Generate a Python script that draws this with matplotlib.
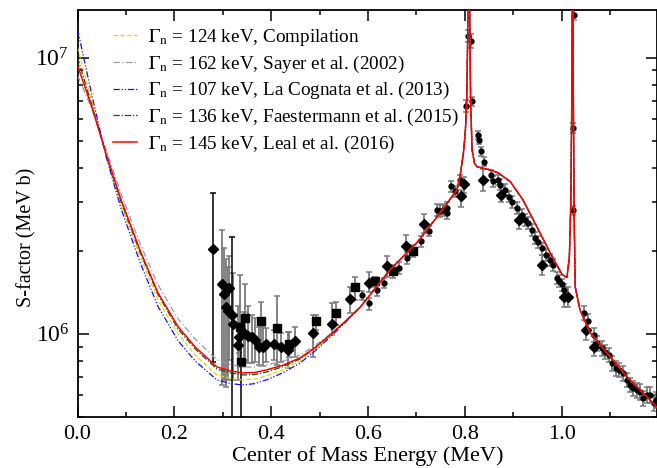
import numpy as np
import matplotlib
matplotlib.use("Agg")
import matplotlib.pyplot as plt
from matplotlib.ticker import LogLocator, MultipleLocator, NullFormatter

plt.rcParams["font.family"] = ["Liberation Serif", "DejaVu Serif"]
plt.rcParams["mathtext.fontset"] = "stix"

# --- model curves -------------------------------------------------------
# below ~0.55 MeV the five evaluations differ
low_E = [0.0, 0.03, 0.059, 0.09, 0.129, 0.166, 0.208, 0.243, 0.288, 0.315,
         0.340, 0.365, 0.391, 0.425, 0.460, 0.490, 0.522, 0.553]
S_compilation = [1.092e7, 6.94e6, 4.39e6, 2.93e6, 1.91e6, 1.33e6, 1.00e6,
                 8.39e5, 7.10e5, 6.90e5, 6.81e5, 6.86e5, 7.05e5, 7.42e5,
                 7.99e5, 8.73e5, 9.83e5, 1.106e6]
S_sayer = [8.65e6, 6.49e6, 4.65e6, 3.22e6, 2.13e6, 1.51e6, 1.13e6, 9.59e5,
           8.05e5, 7.76e5, 7.59e5, 7.58e5, 7.73e5, 7.97e5, 8.39e5, 9.06e5,
           9.99e5, 1.11e6]
S_lacognata = [1.269e7, 7.29e6, 4.39e6, 2.84e6, 1.82e6, 1.26e6, 9.43e5,
               7.98e5, 6.81e5, 6.62e5, 6.53e5, 6.60e5, 6.82e5, 7.24e5,
               7.85e5, 8.65e5, 9.74e5, 1.10e6]
S_faestermann = [1.005e7, 6.71e6, 4.46e6, 3.01e6, 1.98e6, 1.39e6, 1.04e6,
                 8.82e5, 7.46e5, 7.23e5, 7.10e5, 7.12e5, 7.28e5, 7.62e5,
                 8.12e5, 8.87e5, 9.91e5, 1.11e6]
S_leal = [9.4e6, 6.6e6, 4.5e6, 3.06e6, 2.01e6, 1.41e6, 1.06e6, 8.97e5,
          7.59e5, 7.35e5, 7.22e5, 7.24e5, 7.41e5, 7.71e5, 8.19e5, 8.91e5,
          9.91e5, 1.11e6]

# above ~0.55 MeV they lie on top of each other
high_E = [0.584, 0.646, 0.701, 0.743, 0.784, 0.790, 0.797, 0.801, 0.804,
          0.806, 0.808, 0.810, 0.812, 0.815, 0.820, 0.825, 0.852, 0.869,
          0.894, 0.920, 0.949, 0.976, 1.001, 1.011, 1.016, 1.019, 1.021,
          1.0225, 1.024, 1.026, 1.028, 1.038, 1.059, 1.094, 1.135, 1.177,
          1.197]
high_S = [1.25e6, 1.71e6, 2.14e6, 2.66e6, 3.33e6, 3.71e6, 4.5e6, 5.35e6,
          7.0e6, 1.2e7, 3.0e7, 1.5e7, 7.0e6, 4.64e6, 4.15e6, 4.03e6, 3.93e6,
          3.83e6, 3.56e6, 3.06e6, 2.44e6, 1.97e6, 1.64e6, 1.60e6, 1.9e6,
          3.0e6, 7.0e6, 3.0e7, 8.0e6, 2.6e6, 1.48e6, 1.22e6, 1.01e6, 8.53e5,
          6.98e5, 5.91e5, 5.40e5]

# --- measured data ------------------------------------------------------
dia_E = [0.2979, 0.3033, 0.3062, 0.3103, 0.3136, 0.3219, 0.331, 0.334,
         0.3446, 0.3517, 0.360, 0.3667, 0.375, 0.3826, 0.3895, 0.4054,
         0.4205, 0.4355, 0.4494, 0.487, 0.525, 0.563, 0.6023, 0.6388, 0.678,
         0.716, 0.7924, 0.799, 0.837, 0.874, 0.9128, 0.959, 1.005, 1.013,
         1.050, 1.067]
dia_S = [1.52e6, 1.40e6, 1.25e6, 1.21e6, 1.47e6, 1.09e6, 9.12e5, 9.77e5,
         1.01e6, 9.85e5, 9.78e5, 9.51e5, 8.95e5, 8.99e5, 9.2e5, 9.18e5,
         8.95e5, 8.71e5, 9.42e5, 1.01e6, 1.09e6, 1.34e6, 1.53e6, 1.76e6,
         2.09e6, 2.51e6, 3.16e6, 3.48e6, 3.61e6, 3.19e6, 2.58e6, 1.78e6,
         1.36e6, 1.36e6, 1.03e6, 9.0e5]
dia_lo = [6.53e5, 6.81e5, 6.44e5, 6.81e5, 8.06e5, 6.81e5, 6.81e5, 8.5e5,
          8.0e5, 7.85e5, 7.85e5, 7.94e5, 7.73e5, 7.62e5, 7.9e5, 8.06e5,
          7.94e5, 7.53e5, 8.28e5, 8.28e5, 9.91e5, 1.19e6, 1.42e6, 1.61e6,
          1.91e6, 2.32e6, 2.89e6, 3.25e6, 3.3e6, 3.0e6, 2.4e6, 1.63e6,
          1.25e6, 1.25e6, 9.5e5, 8.3e5]
dia_hi = [2.38e6, 2.05e6, 1.86e6, 1.75e6, 1.91e6, 1.66e6, 1.26e6, 1.1e6,
          1.2e6, 1.26e6, 1.17e6, 1.14e6, 1.06e6, 1.06e6, 1.05e6, 1.03e6,
          1.01e6, 1.02e6, 1.06e6, 1.17e6, 1.29e6, 1.48e6, 1.67e6, 1.92e6,
          2.29e6, 2.72e6, 3.33e6, 3.7e6, 3.95e6, 3.4e6, 2.8e6, 1.93e6,
          1.48e6, 1.48e6, 1.11e6, 9.8e5]

sq_E = [0.3357, 0.3461, 0.379, 0.4116, 0.437, 0.4928, 0.5334, 0.5733,
        0.6147, 0.6512, 0.692]
sq_S = [1.06e6, 1.14e6, 1.11e6, 1.05e6, 9.2e5, 1.11e6, 1.19e6, 1.48e6,
        1.55e6, 1.69e6, 2.00e6]
sq_lo = [8.0e5, 8.06e5, 9.12e5, 7.73e5, 8.28e5, 1.03e6, 1.08e6, 1.33e6,
         1.48e6, 1.6e6, 1.9e6]
sq_hi = [1.64e6, 1.51e6, 1.30e6, 1.37e6, 1.02e6, 1.17e6, 1.30e6, 1.61e6,
         1.61e6, 1.78e6, 2.1e6]

# points drawn with black error bars (very large uncertainties)
blk_E = [0.2806, 0.3186, 0.3378]
blk_S = [2.03e6, 1.17e6, 7.94e5]
blk_lo = [7.94e5, 3.0e5, 3.0e5]
blk_hi = [3.25e6, 2.25e6, 1.06e6]
blk_marker = ["D", "D", "s"]

circ_E = [0.5884, 0.603, 0.6194, 0.6333, 0.6643, 0.680, 0.7097, 0.7256,
          0.742, 0.749, 0.7558, 0.763, 0.764, 0.7717, 0.780, 0.790, 0.8027,
          0.8075, 0.8124, 0.8157, 0.8268, 0.8296, 0.8337, 0.840, 0.854,
          0.859, 0.869, 0.873, 0.883, 0.892, 0.897, 0.9075, 0.918, 0.9246,
          0.930, 0.9384, 0.945, 0.952, 0.959, 0.968, 0.975, 0.983, 0.990,
          0.9955, 1.000, 1.004, 1.023, 1.024, 1.026, 1.0465, 1.0554, 1.066,
          1.074, 1.083, 1.090, 1.097, 1.105, 1.1126, 1.1195, 1.1264, 1.1347,
          1.1415, 1.1483, 1.155, 1.162, 1.169, 1.176, 1.183, 1.190, 1.195]
circ_S = [1.38e6, 1.29e6, 1.44e6, 1.53e6, 1.73e6, 1.88e6, 2.17e6, 2.36e6,
          2.81e6, 2.79e6, 2.81e6, 2.74e6, 2.85e6, 3.42e6, 3.28e6, 3.61e6,
          6.70e6, 1.20e7, 1.15e7, 6.95e6, 5.26e6, 5.05e6, 4.58e6, 4.21e6,
          3.77e6, 3.57e6, 3.61e6, 3.47e6, 3.33e6, 3.14e6, 3.01e6, 2.85e6,
          2.70e6, 2.59e6, 2.52e6, 2.38e6, 2.22e6, 2.16e6, 2.04e6, 1.93e6,
          1.85e6, 1.78e6, 1.59e6, 1.55e6, 1.51e6, 1.44e6, 2.80e6, 5.56e6,
          1.43e7, 1.19e6, 1.11e6, 9.91e5, 9.24e5, 8.87e5, 8.63e5, 8.39e5,
          7.83e5, 7.51e5, 7.41e5, 7.21e5, 6.81e5, 6.53e5, 6.35e5, 6.26e5,
          6.18e5, 5.85e5, 6.01e5, 6.01e5, 5.61e5, 5.77e5]
# relative uncertainty of each circle point
circ_err = [0.04, 0.05, 0.05, 0.045, 0.05, 0.05, 0.045, 0.045,
            0.05, 0.05, 0.05, 0.05, 0.05, 0.045, 0.045, 0.045,
            0.05, 0.05, 0.06, 0.04, 0.035, 0.035, 0.04, 0.04,
            0.04, 0.045, 0.045, 0.045, 0.045, 0.045, 0.05, 0.05,
            0.05, 0.05, 0.05, 0.05, 0.05, 0.05, 0.05, 0.05,
            0.05, 0.05, 0.05, 0.05, 0.05, 0.055, 0.04, 0.04,
            0.04, 0.06, 0.06, 0.06, 0.06, 0.06, 0.06, 0.06,
            0.06, 0.06, 0.06, 0.06, 0.06, 0.06, 0.06, 0.065,
            0.065, 0.065, 0.065, 0.065, 0.065, 0.065]

curves = [
    (S_compilation, "#f2d000", (0, (3.5, 2.0)), r"$\Gamma_{\mathrm{n}}$ = 124 keV, Compilation"),
    (S_sayer, "#939dab", (0, (5.0, 2.0, 1.0, 2.0)), r"$\Gamma_{\mathrm{n}}$ = 162 keV, Sayer et al. (2002)"),
    (S_lacognata, "#1010ff", (0, (5.0, 1.5, 1.0, 1.5, 1.0, 1.5)), r"$\Gamma_{\mathrm{n}}$ = 107 keV, La Cognata et al. (2013)"),
    (S_faestermann, "#0a5a0a", (0, (5.0, 1.5, 1.0, 1.5)), r"$\Gamma_{\mathrm{n}}$ = 136 keV, Faestermann et al. (2015)"),
    (S_leal, "#ff0000", "-", r"$\Gamma_{\mathrm{n}}$ = 145 keV, Leal et al. (2016)"),
]

fig = plt.figure(figsize=(6.57, 4.68), dpi=100)
ax = fig.add_axes([77.5 / 657, 1 - 417 / 468, 1 - 77.5 / 657, 407 / 468])

err_kw = dict(ls="none", ecolor="#7a7a7a", elinewidth=1.3, capsize=2.2,
              capthick=1.1, mfc="black", mec="black", zorder=2)

ax.errorbar(circ_E, circ_S, yerr=np.array(circ_S) * np.array(circ_err),
            fmt="o", ms=3.5, **err_kw)
ax.errorbar(dia_E, dia_S,
            yerr=[np.array(dia_S) - np.array(dia_lo),
                  np.array(dia_hi) - np.array(dia_S)],
            fmt="D", ms=5.5, **err_kw)
ax.errorbar(sq_E, sq_S,
            yerr=[np.array(sq_S) - np.array(sq_lo),
                  np.array(sq_hi) - np.array(sq_S)],
            fmt="s", ms=6, **err_kw)
for e, s, lo, hi, mk in zip(blk_E, blk_S, blk_lo, blk_hi, blk_marker):
    ax.errorbar([e], [s], yerr=[[s - lo], [hi - s]], fmt=mk,
                ms=5.5 if mk == "D" else 6, ls="none", ecolor="black",
                elinewidth=1.1, capsize=2.2, capthick=1.1, mfc="black",
                mec="black", zorder=2)

for S_low, color, ls, label in curves:
    E = list(low_E) + list(high_E)
    S = list(S_low) + list(high_S)
    lw = 1.1 if ls == "-" else 0.9
    ax.plot(E, S, color=color, ls=ls, lw=lw, label=label, zorder=3)

ax.set_yscale("log")
ax.set_xlim(0.0, 1.197)
ax.set_ylim(5.0e5, 1.49e7)

ax.xaxis.set_major_locator(MultipleLocator(0.2))
ax.xaxis.set_minor_locator(MultipleLocator(0.1))
ax.xaxis.set_major_formatter(lambda v, p: f"{v:.1f}")
ax.yaxis.set_major_locator(LogLocator(base=10))
ax.yaxis.set_minor_locator(LogLocator(base=10, subs=np.arange(2, 10)))
ax.yaxis.set_minor_formatter(NullFormatter())

ax.tick_params(which="both", direction="in", top=True, right=True,
               labelsize=16, width=1.1, pad=6)
ax.tick_params(axis="y", which="major", labelsize=17)
ax.tick_params(which="major", length=8)
ax.tick_params(which="minor", length=3.5)
for sp in ax.spines.values():
    sp.set_linewidth(1.3)

ax.set_xlabel("Center of Mass Energy (MeV)", fontsize=16, labelpad=1)
ax.set_ylabel("S-factor (MeV b)", fontsize=14.5)
ax.yaxis.set_label_coords(-0.07, 0.441)

ax.legend(loc="upper left", bbox_to_anchor=(0.061, 0.958), frameon=False,
          fontsize=13.8, handlelength=1.25, handletextpad=0.57,
          labelspacing=0.29, borderpad=0, borderaxespad=0)

fig.savefig("out.png", dpi=100)
